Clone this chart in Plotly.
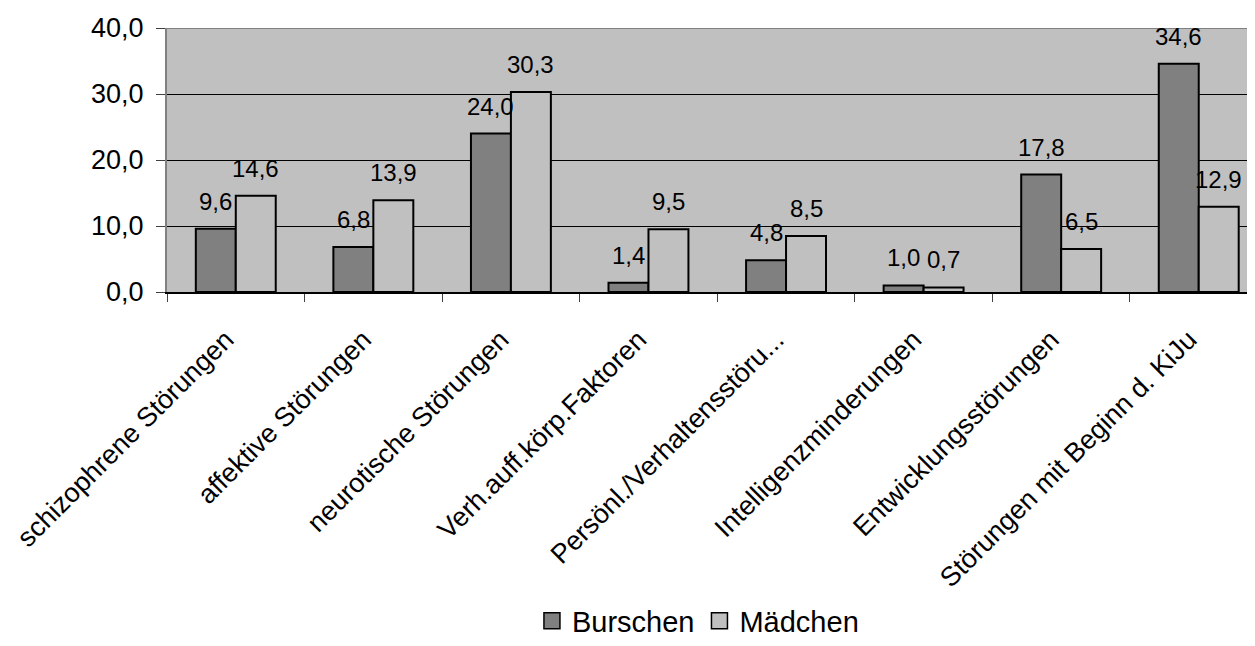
import plotly.graph_objects as go

categories = ["schizophrene Störungen", "affektive Störungen", "neurotische Störungen",
              "Verh.auff.körp.Faktoren", "Persönl./Verhaltensstöru...", "Intelligenzminderungen",
              "Entwicklungsstörungen", "Störungen mit Beginn d. KiJu"]
burschen = [9.6, 6.8, 24.0, 1.4, 4.8, 1.0, 17.8, 34.6]
maedchen = [14.6, 13.9, 30.3, 9.5, 8.5, 0.7, 6.5, 12.9]
series_names = ["Burschen", "Mädchen"]
series_colors = ["#808080", "#C0C0C0"]
y_ticks = [0, 10, 20, 30, 40]

FONT = "Liberation Sans, Arial, sans-serif"

fig = go.Figure()
for vals, name, col in zip((burschen, maedchen), series_names, series_colors):
    fig.add_trace(go.Bar(x=categories, y=vals, name=name, showlegend=False,
                         marker=dict(color=col, line=dict(color="#000000", width=2))))
# legend-only entries with larger square swatches
for name, col in zip(series_names, series_colors):
    fig.add_trace(go.Scatter(x=[None], y=[None], mode="markers", name=name,
                             marker=dict(symbol="square", size=17, color=col,
                                         line=dict(color="#000000", width=1.5))))

annotations = []
for vals, shift in ((burschen, -20), (maedchen, 20)):
    for c, v in zip(categories, vals):
        annotations.append(dict(x=c, y=v, xref="x", yref="y", text=f"{v:.1f}".replace(".", ","),
                                showarrow=False, xshift=shift, yshift=12, yanchor="bottom",
                                font=dict(family=FONT, size=24, color="#000000")))

fig.update_layout(
    width=1247, height=638,
    margin=dict(l=159, r=0, t=20, b=354, autoexpand=False),
    paper_bgcolor="#FFFFFF", plot_bgcolor="#C0C0C0",
    barmode="group", bargap=0.419, bargroupgap=0,
    font=dict(family=FONT, size=26, color="#000000"),
    annotations=annotations,
    legend=dict(orientation="h", x=0.488, xanchor="center", y=-1.246, yanchor="middle",
                font=dict(family=FONT, size=29), traceorder="normal",
                itemsizing="trace", bgcolor="rgba(0,0,0,0)"),
    shapes=[dict(type="line", xref="paper", yref="y", x0=0, x1=1, y0=40, y1=40,
                 line=dict(color="#808080", width=2), layer="above")],
)
fig.update_xaxes(
    type="category", categoryorder="array", categoryarray=categories,
    range=[-0.5, 7.409], automargin=False,
    tickangle=-45, tickson="boundaries", ticks="outside", ticklen=8, tickcolor="#404040",
    ticklabelstandoff=19, ticklabelshift=-10, ticklabeloverflow="allow",
    showline=True, linecolor="#000000", linewidth=2, showgrid=False, zeroline=False,
    tickfont=dict(family=FONT, size=27),
)
fig.update_yaxes(
    range=[0, 40], tickmode="array", tickvals=y_ticks, automargin=False,
    ticktext=[f"{t:.1f}".replace(".", ",") for t in y_ticks],
    ticks="outside", ticklen=9, tickcolor="#404040", ticklabelstandoff=7,
    showline=True, linecolor="#808080", linewidth=2,
    showgrid=True, gridcolor="#000000", gridwidth=1, zeroline=False,
    tickfont=dict(family=FONT, size=27),
)

fig.write_html("out.html")
